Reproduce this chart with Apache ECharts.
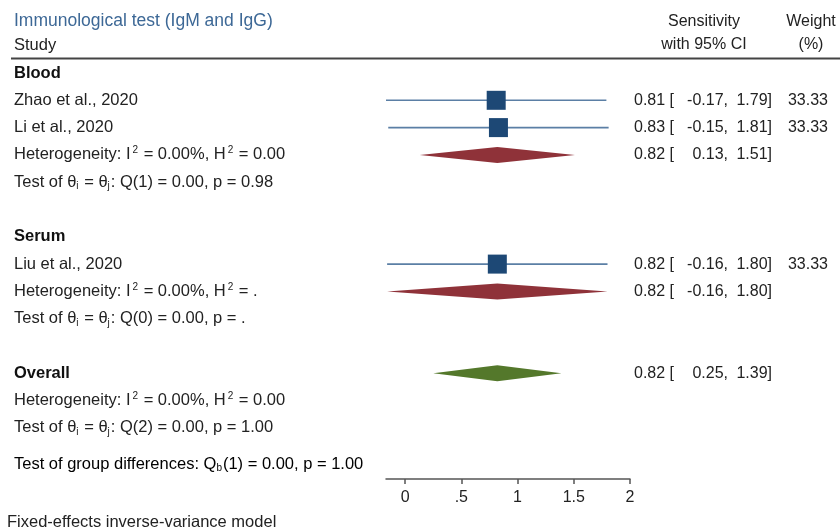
<!DOCTYPE html>
<html>
<head>
<meta charset="utf-8">
<script src="https://cdn.jsdelivr.net/npm/echarts/dist/echarts.min.js"></script>
<style>html,body{margin:0;padding:0;background:#fff}#c{width:840px;height:530px}</style>
</head>
<body>
<div id="c"></div>
<script>
// ---- data ----
const studyNames = ['Zhao et al., 2020', 'Li et al., 2020', 'Liu et al., 2020'];
const studyGroup = ['Blood', 'Blood', 'Serum'];
const studyEst = [0.81, 0.83, 0.82];
const studyLo = [-0.17, -0.15, -0.16];
const studyHi = [1.79, 1.81, 1.80];
const studyWeight = [33.33, 33.33, 33.33];

const groupNames = ['Blood', 'Serum'];
const groupEst = [0.82, 0.82];
const groupLo = [0.13, -0.16];
const groupHi = [1.51, 1.80];
const groupI2 = ['0.00%', '0.00%'];
const groupH2 = ['0.00', '.'];
const groupQdf = [1, 0];
const groupQ = ['0.00', '0.00'];
const groupP = ['0.98', '.'];

const overallEst = 0.82, overallLo = 0.25, overallHi = 1.39;
const overallI2 = '0.00%', overallH2 = '0.00', overallQdf = 2, overallQ = '0.00', overallP = '1.00';
const groupDiffDf = 1, groupDiffQ = '0.00', groupDiffP = '1.00';

const xTickValues = [0, 0.5, 1, 1.5, 2];
const xTickLabels = ['0', '.5', '1', '1.5', '2'];

// ---- build rows ----
const FONT = '"Liberation Sans", Arial, Helvetica, sans-serif';
const rowKeys = [], leftLabels = [], rightLabels = [];
const studyPoints = [], diamondPoints = [];
const f2 = v => v.toFixed(2);
const ciText = (e, l, h) => '{e|' + f2(e) + ' [}{l|' + f2(l) + ',}{h|' + f2(h) + ']}';
const hetText = (i2, h2) => '{n|Heterogeneity: I}{sup|2}{n| = ' + i2 + ', H}{sup|2}{n| = ' + h2 + '}';
const testText = (df, q, p) => '{n|Test of θ}{sub|i}{n| = θ}{sub|j}{n|: Q(' + df + ') = ' + q + ', p = ' + p + '}';
function addRow(left, right) {
  rowKeys.push('r' + rowKeys.length);
  leftLabels.push(left);
  rightLabels.push(right);
  return rowKeys.length - 1;
}
groupNames.forEach((g, gi) => {
  addRow('{b|' + g + '}', '');
  studyNames.forEach((s, si) => {
    if (studyGroup[si] !== g) return;
    const idx = addRow('{n|' + s + '}', ciText(studyEst[si], studyLo[si], studyHi[si]) + '{w|' + f2(studyWeight[si]) + '}');
    studyPoints.push([studyEst[si], idx, studyLo[si], studyHi[si], studyWeight[si]]);
  });
  const hi = addRow(hetText(groupI2[gi], groupH2[gi]), ciText(groupEst[gi], groupLo[gi], groupHi[gi]));
  diamondPoints.push([groupEst[gi], hi, groupLo[gi], groupHi[gi], 0]);
  addRow(testText(groupQdf[gi], groupQ[gi], groupP[gi]), '');
  addRow('', '');
});
const oi = addRow('{b|Overall}', ciText(overallEst, overallLo, overallHi));
diamondPoints.push([overallEst, oi, overallLo, overallHi, 1]);
addRow(hetText(overallI2, overallH2), '');
addRow(testText(overallQdf, overallQ, overallP), '');

const xMin = Math.min(...studyLo, ...groupLo, overallLo);
const maxWeight = Math.max(...studyWeight);
const diamondColors = ['#8f3239', '#54782b'];

const LF = 16.5;
const richLeft = {
  n: { fontSize: LF, color: '#222', fontFamily: FONT, lineHeight: 19 },
  b: { fontSize: LF, color: '#111', fontWeight: 'bold', fontFamily: FONT, lineHeight: 19 },
  sup: { fontSize: 10, color: '#222', fontFamily: FONT, lineHeight: 10, verticalAlign: 'top', padding: [0, 1, 0, 2] },
  sub: { fontSize: 10, color: '#222', fontFamily: FONT, lineHeight: 10, verticalAlign: 'bottom', padding: [0, 1, 0, 0] }
};
const richRight = {
  e: { fontSize: 16, color: '#222', fontFamily: FONT, width: 40, align: 'left' },
  l: { fontSize: 16, color: '#222', fontFamily: FONT, width: 54, align: 'right' },
  h: { fontSize: 16, color: '#222', fontFamily: FONT, width: 44, align: 'right' },
  w: { fontSize: 16, color: '#222', fontFamily: FONT, width: 56, align: 'right' }
};

const chart = echarts.init(document.getElementById('c'), null, { renderer: 'canvas' });
const gridTop = 59.35, rowH = 27.3;
const gridH = rowH * rowKeys.length;
chart.setOption({
  animation: false,
  textStyle: { fontFamily: FONT },
  grid: { left: 386, right: 210, top: gridTop, height: gridH },
  xAxis: {
    type: 'value', min: xMin, max: 2, offset: 479 - (gridTop + gridH),
    splitLine: { show: false },
    axisLine: { show: true, lineStyle: { color: '#555', width: 1.5 } },
    axisTick: { show: true, customValues: xTickValues, length: 5, lineStyle: { color: '#555', width: 1.5 } },
    axisLabel: {
      customValues: xTickValues, fontSize: 16, color: '#222', margin: 11,
      formatter: v => { const i = xTickValues.indexOf(v); return i >= 0 ? xTickLabels[i] : ''; }
    }
  },
  yAxis: [
    {
      type: 'category', data: rowKeys, inverse: true, position: 'left',
      axisLine: { show: false }, axisTick: { show: false }, splitLine: { show: false },
      axisLabel: { interval: 0, align: 'left', margin: 386 - 14, formatter: (v, i) => leftLabels[i], rich: richLeft }
    },
    {
      type: 'category', data: rowKeys, inverse: true, position: 'right',
      axisLine: { show: false }, axisTick: { show: false }, splitLine: { show: false },
      axisLabel: { interval: 0, align: 'left', margin: 4, formatter: (v, i) => rightLabels[i], rich: richRight }
    }
  ],
  graphic: [
    { type: 'text', x: 14, y: 21, style: { text: 'Immunological test (IgM and IgG)', fontSize: 17.5, fontFamily: FONT, fill: '#3d6896', verticalAlign: 'middle' } },
    { type: 'text', x: 14, y: 45, style: { text: 'Study', fontSize: LF, fontFamily: FONT, fill: '#222', verticalAlign: 'middle' } },
    { type: 'text', x: 704, y: 22, style: { text: 'Sensitivity', fontSize: 16, fontFamily: FONT, fill: '#222', align: 'center', verticalAlign: 'middle' } },
    { type: 'text', x: 704, y: 45, style: { text: 'with 95% CI', fontSize: 16, fontFamily: FONT, fill: '#222', align: 'center', verticalAlign: 'middle' } },
    { type: 'text', x: 811, y: 22, style: { text: 'Weight', fontSize: 16, fontFamily: FONT, fill: '#222', align: 'center', verticalAlign: 'middle' } },
    { type: 'text', x: 811, y: 45, style: { text: '(%)', fontSize: 16, fontFamily: FONT, fill: '#222', align: 'center', verticalAlign: 'middle' } },
    { type: 'line', shape: { x1: 11, y1: 58.5, x2: 840, y2: 58.5 }, style: { stroke: '#444', lineWidth: 2 } },
    { type: 'text', x: 14, y: 464, style: { text: '{n|Test of group differences: Q}{sub|b}{n|(' + groupDiffDf + ') = ' + groupDiffQ + ', p = ' + groupDiffP + '}', rich: richLeft, verticalAlign: 'middle' } },
    { type: 'text', x: 7, y: 522, style: { text: 'Fixed-effects inverse-variance model', fontSize: LF, fontFamily: FONT, fill: '#222', verticalAlign: 'middle' } }
  ],
  series: [
    {
      type: 'custom', name: 'studies', xAxisIndex: 0, yAxisIndex: 0,
      encode: { x: [0, 2, 3], y: 1 },
      data: studyPoints,
      renderItem: (params, api) => {
        const y = api.value(1);
        const p0 = api.coord([api.value(2), y]);
        const p1 = api.coord([api.value(3), y]);
        const pc = api.coord([api.value(0), y]);
        const s = 19 * Math.sqrt(api.value(4) / maxWeight);
        return {
          type: 'group', children: [
            { type: 'line', shape: { x1: p0[0], y1: pc[1], x2: p1[0], y2: pc[1] }, style: { stroke: '#5b7fa5', lineWidth: 1.6 } },
            { type: 'rect', shape: { x: pc[0] - s / 2, y: pc[1] - s / 2, width: s, height: s }, style: { fill: '#1d4875' } }
          ]
        };
      }
    },
    {
      type: 'custom', name: 'diamonds', xAxisIndex: 0, yAxisIndex: 0,
      encode: { x: [0, 2, 3], y: 1 },
      data: diamondPoints,
      renderItem: (params, api) => {
        const y = api.value(1);
        const p0 = api.coord([api.value(2), y]);
        const p1 = api.coord([api.value(3), y]);
        const pc = api.coord([api.value(0), y]);
        const h = 8;
        return {
          type: 'polygon',
          shape: { points: [[p0[0], pc[1]], [pc[0], pc[1] - h], [p1[0], pc[1]], [pc[0], pc[1] + h]] },
          style: { fill: diamondColors[api.value(4)] }
        };
      }
    }
  ]
});
</script>
</body>
</html>
